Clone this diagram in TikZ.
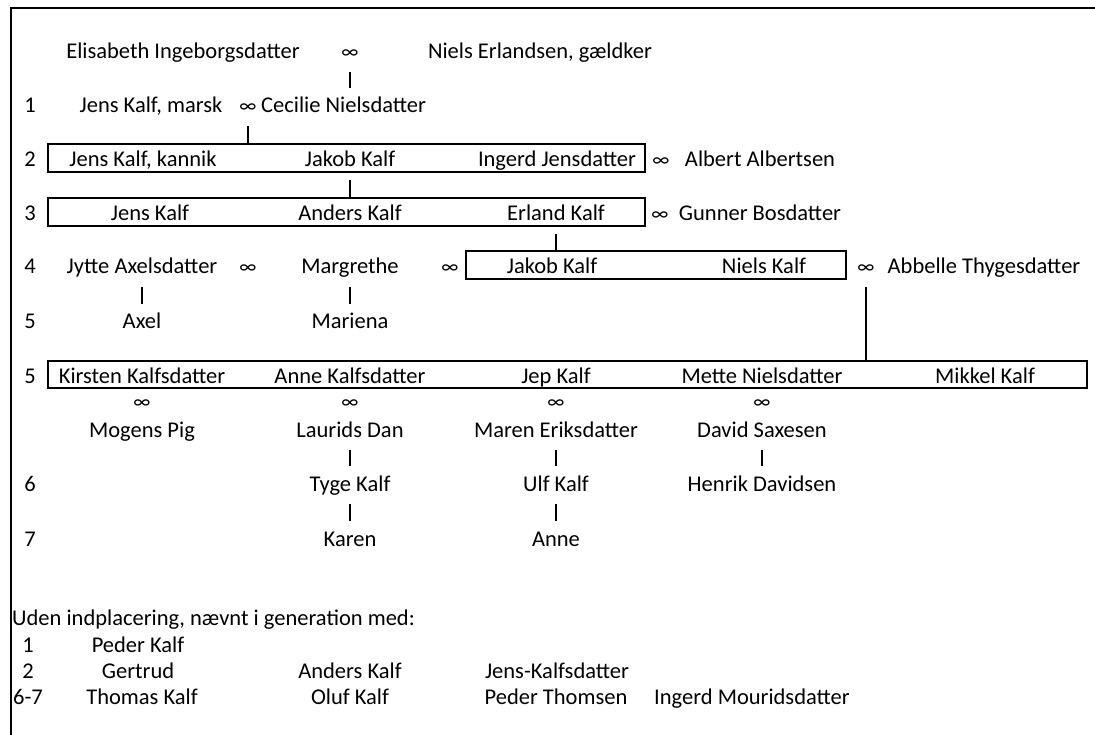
\documentclass[tikz,border=0pt]{standalone}
\usepackage{fontspec}
\setmainfont{Carlito}
\begin{document}
\begin{tikzpicture}[x=1pt, y=-1pt,
		every node/.style={font=\fontsize{22.5}{27}\selectfont},
		pname/.style={anchor=base, text height=17pt, text depth=5pt, inner xsep=2pt, inner ysep=8pt},
		gen/.style={pname},
		wed/.style={pname, font=\fontsize{20}{24}\selectfont},
		box/.style={draw, line width=1.4pt, inner sep=0pt},
		link/.style={line width=1.2pt}]
		\useasboundingbox (0,0) rectangle (1095,735);
		\draw[line width=2pt] (1095,8) -- (11,8) -- (11,735);
		\node[pname] (elisabeth) at (183,59) {Elisabeth Ingeborgsdatter};
		\node[wed] (m0) at (350,59) {∞};
		\node[pname] (nielsE) at (540,59) {Niels Erlandsen, gældker};
		\node[gen] (g1) at (30,113) {1};
		\node[pname] (jensM) at (151,113) {Jens Kalf, marsk};
		\node[wed] (m1) at (248,113) {∞};
		\node[pname, anchor=base west] (cecilie) at (259,113) {Cecilie Nielsdatter};
		\node[box, minimum width=597pt, minimum height=28pt] (box2) at (346.5,158) {};
		\node[gen] (g2) at (30,167) {2};
		\node[pname] (jensK) at (143,167) {Jens Kalf, kannik};
		\node[pname] (jakob2) at (350,167) {Jakob Kalf};
		\node[pname] (ingerd) at (557,167) {Ingerd Jensdatter};
		\node[wed] (m2) at (661,167) {∞};
		\node[pname] (albert) at (760,167) {Albert Albertsen};
		\node[box, minimum width=597pt, minimum height=28pt] (box3) at (346.5,212) {};
		\node[gen] (g3) at (30,221) {3};
		\node[pname] (jens3) at (150,221) {Jens Kalf};
		\node[pname] (anders3) at (350,221) {Anders Kalf};
		\node[pname] (erland) at (556,221) {Erland Kalf};
		\node[wed] (m3) at (660,221) {∞};
		\node[pname] (gunner) at (760,221) {Gunner Bosdatter};
		\node[box, minimum width=380pt, minimum height=28pt] (box4) at (656,265) {};
		\node[gen] (g4) at (30,274) {4};
		\node[pname] (jytte) at (142,274) {Jytte Axelsdatter};
		\node[wed] (m4a) at (248,274) {∞};
		\node[pname] (margrethe) at (350,274) {Margrethe};
		\node[wed] (m4b) at (450,274) {∞};
		\node[pname] (jakob4) at (552,274) {Jakob Kalf};
		\node[pname] (niels4) at (764,274) {Niels Kalf};
		\node[wed] (m4c) at (866,274) {∞};
		\node[pname] (abbelle) at (984,274) {Abbelle Thygesdatter};
		\node[gen] (g5a) at (30,329) {5};
		\node[pname] (axel) at (142,329) {Axel};
		\node[pname] (mariena) at (350,329) {Mariena};
		\node[box, minimum width=1039pt, minimum height=27pt] (box5) at (567.5,374.5) {};
		\node[gen] (g5b) at (30,383) {5};
		\node[pname] (kirsten) at (142,383) {Kirsten Kalfsdatter};
		\node[pname] (anne5) at (350,383) {Anne Kalfsdatter};
		\node[pname] (jep) at (556,383) {Jep Kalf};
		\node[pname] (mette) at (762,383) {Mette Nielsdatter};
		\node[pname] (mikkel) at (985,383) {Mikkel Kalf};
		\node[wed] (m5a) at (142,408) {∞};
		\node[wed] (m5b) at (350,408) {∞};
		\node[wed] (m5c) at (556,408) {∞};
		\node[wed] (m5d) at (762,408) {∞};
		\node[pname] (mogens) at (142,437) {Mogens Pig};
		\node[pname] (laurids) at (350,437) {Laurids Dan};
		\node[pname] (maren) at (556,437) {Maren Eriksdatter};
		\node[pname] (david) at (762,437) {David Saxesen};
		\node[gen] (g6) at (30,491) {6};
		\node[pname] (tyge) at (350,491) {Tyge Kalf};
		\node[pname] (ulf) at (556,491) {Ulf Kalf};
		\node[pname] (henrik) at (762,491) {Henrik Davidsen};
		\node[gen] (g7) at (30,546) {7};
		\node[pname] (karen) at (350,546) {Karen};
		\node[pname] (anne7) at (556,546) {Anne};
		\node[pname, anchor=base west, inner xsep=0pt] (uden) at (12,625) {Uden indplacering, nævnt i generation med:};
		\node[gen] (u1) at (28,652) {1};
		\node[pname] (peder1) at (138,652) {Peder Kalf};
		\node[gen] (u2) at (28,678) {2};
		\node[pname] (gertrud) at (138,678) {Gertrud};
		\node[pname] (andersU) at (350,678) {Anders Kalf};
		\node[pname] (jensKd) at (557,678) {Jens-Kalfsdatter};
		\node[gen, anchor=base west, inner xsep=0pt] (u67) at (13,704) {6-7};
		\node[pname] (thomas) at (142,704) {Thomas Kalf};
		\node[pname] (oluf) at (350,704) {Oluf Kalf};
		\node[pname] (pederT) at (556,704) {Peder Thomsen};
		\node[pname] (ingerdM) at (752,704) {Ingerd Mouridsdatter};
		\draw[link] (m0.south) -- (m0.south |- cecilie.north);
		\draw[link] (m1.south) -- (m1.south |- box2.north);
		\draw[link] (jakob2.south) -- (jakob2.south |- box3.north);
		\draw[link] (erland.south) -- (erland.south |- box4.north);
		\draw[link] (m4c.south) -- (m4c.south |- box5.north);
		\draw[link] (jytte) -- (axel);
		\draw[link] (margrethe) -- (mariena);
		\draw[link] (laurids) -- (tyge);
		\draw[link] (maren) -- (ulf);
		\draw[link] (david) -- (henrik);
		\draw[link] (tyge) -- (karen);
		\draw[link] (ulf) -- (anne7);
	\end{tikzpicture}
\end{document}
